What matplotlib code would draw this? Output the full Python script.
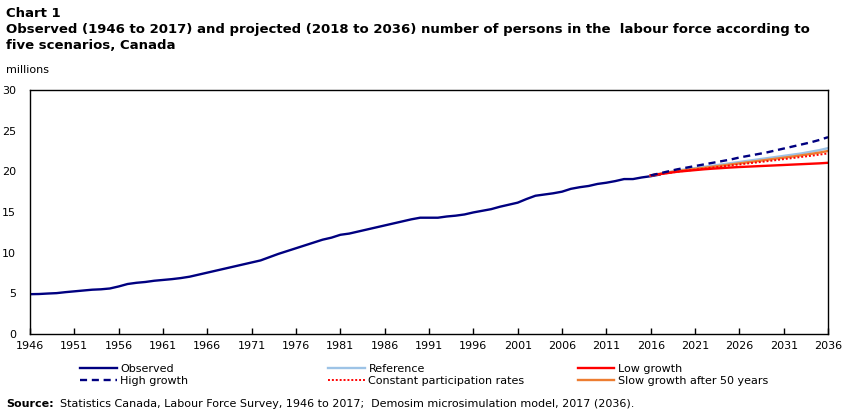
import matplotlib
matplotlib.use("Agg")
import matplotlib.pyplot as plt
import numpy as np

plt.rcParams["font.family"] = "DejaVu Sans"

# ── Data (millions of persons) ─────────────────────────────────────
obs_years = np.arange(1946, 2018)
observed = [4.90, 4.92, 4.98, 5.03, 5.15, 5.25, 5.35, 5.45, 5.50, 5.60,
            5.85, 6.15, 6.30, 6.40, 6.55, 6.65, 6.75, 6.88, 7.05, 7.30,
            7.55, 7.80, 8.05, 8.30, 8.55, 8.80, 9.05, 9.45, 9.85, 10.20,
            10.55, 10.90, 11.25, 11.60, 11.85, 12.20, 12.35, 12.60, 12.85, 13.10,
            13.35, 13.60, 13.85, 14.10, 14.30, 14.30, 14.30, 14.45, 14.55, 14.70,
            14.95, 15.15, 15.35, 15.65, 15.90, 16.15, 16.60, 17.00, 17.15, 17.30,
            17.50, 17.85, 18.05, 18.20, 18.45, 18.60, 18.80, 19.05, 19.05, 19.25,
            19.40, 19.60]

proj_years = np.arange(2016, 2037)
high_growth = [19.50, 19.75, 20.00, 20.25, 20.45, 20.65, 20.85, 21.05, 21.25, 21.45,
               21.70, 21.90, 22.10, 22.30, 22.55, 22.80, 23.05, 23.30, 23.55, 23.85,
               24.20]
reference = [19.50, 19.70, 19.90, 20.10, 20.25, 20.40, 20.55, 20.70, 20.85, 21.00,
             21.15, 21.30, 21.45, 21.60, 21.75, 21.90, 22.05, 22.20, 22.40, 22.60,
             22.85]
slow_growth_50 = [19.50, 19.68, 19.86, 20.03, 20.17, 20.30, 20.43, 20.57, 20.70, 20.84,
                  20.98, 21.12, 21.26, 21.40, 21.54, 21.68, 21.82, 21.97, 22.13, 22.30,
                  22.50]
constant_part = [19.50, 19.65, 19.80, 19.95, 20.08, 20.20, 20.33, 20.46, 20.59, 20.72,
                 20.85, 20.98, 21.10, 21.23, 21.36, 21.50, 21.63, 21.77, 21.90, 22.05,
                 22.20]
low_growth = [19.50, 19.65, 19.80, 19.95, 20.05, 20.15, 20.25, 20.33, 20.40, 20.47,
              20.53, 20.58, 20.63, 20.68, 20.73, 20.78, 20.83, 20.88, 20.93, 20.98,
              21.05]

xticks = np.arange(1946, 2037, 5)
yticks = [0, 5, 10, 15, 20, 25, 30]

# ── Figure ─────────────────────────────────────────────────────────
fig = plt.figure(figsize=(8.51, 4.16), dpi=100)
ax = fig.add_axes([0.0353, 0.197, 0.9377, 0.5867])

navy = "#000080"
h_obs, = ax.plot(obs_years, observed, color=navy, lw=1.7, label="Observed", zorder=1)
h_ref, = ax.plot(proj_years, reference, color="#9dc3e6", lw=1.7, label="Reference")
h_slow, = ax.plot(proj_years, slow_growth_50, color="#ed7d31", lw=1.7,
                  label="Slow growth after 50 years")
h_const, = ax.plot(proj_years, constant_part, color="#ff0000", lw=1.4, ls=(0, (1, 1)),
                   label="Constant participation rates")
h_low, = ax.plot(proj_years, low_growth, color="#ff0000", lw=1.7, label="Low growth")
h_high, = ax.plot(proj_years, high_growth, color=navy, lw=1.7, ls=(0, (3, 2)),
                  label="High growth")

ax.set_xlim(1946, 2036)
ax.set_ylim(0, 30)
ax.set_xticks(xticks)
ax.set_xticklabels([str(x) for x in xticks], fontsize=8)
ax.set_yticks(yticks)
ax.set_yticklabels([str(y) for y in yticks], fontsize=8)
ax.tick_params(axis="x", direction="in", length=4, width=1, pad=5)
ax.tick_params(axis="y", length=0, pad=10)
for s in ax.spines.values():
    s.set_linewidth(1)
    s.set_color("black")

# ── Texts ──────────────────────────────────────────────────────────
fig.text(0.007, 0.968, "Chart 1", fontsize=9.5, fontweight="bold", va="center")
fig.text(0.007, 0.928,
         "Observed (1946 to 2017) and projected (2018 to 2036) number of persons in the  labour force according to",
         fontsize=9.5, fontweight="bold", va="center")
fig.text(0.007, 0.890, "five scenarios, Canada", fontsize=9.5, fontweight="bold", va="center")
fig.text(0.007, 0.832, "millions", fontsize=8, va="center")

fig.text(0.007, 0.029, "Source:", fontsize=8, fontweight="bold", va="center")
fig.text(0.070, 0.029,
         "Statistics Canada, Labour Force Survey, 1946 to 2017;  Demosim microsimulation model, 2017 (2036).",
         fontsize=8, va="center")

# ── Legend: three columns ─────────────────────────────────────────
cols = [([h_obs, h_high], 0.094), ([h_ref, h_const], 0.386), ([h_low, h_slow], 0.679)]
for handles, x0 in cols:
    leg = fig.legend(handles=handles, loc="upper left", bbox_to_anchor=(x0, 0.126),
                     frameon=False, fontsize=8, handlelength=3.3, handletextpad=0.3,
                     labelspacing=0.25, borderaxespad=0, borderpad=0)

fig.savefig("out.png", dpi=100)
